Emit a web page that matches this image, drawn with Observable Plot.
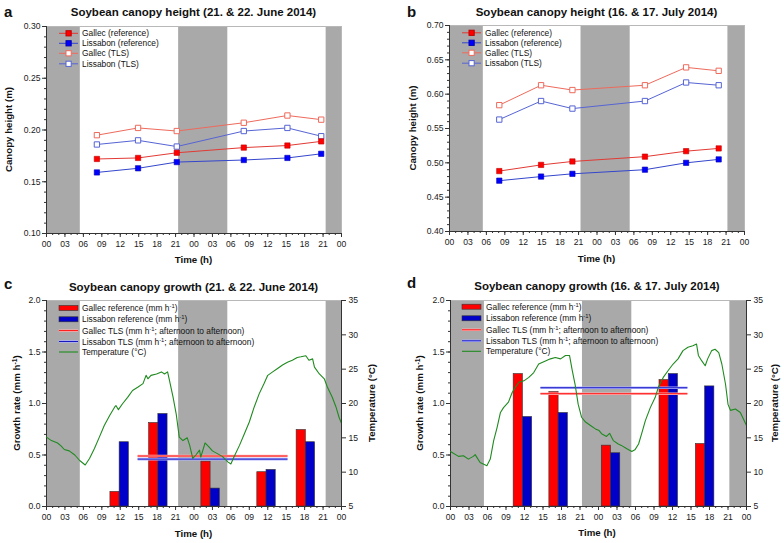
<!DOCTYPE html>
<html><head><meta charset="utf-8">
<script src="https://cdn.jsdelivr.net/npm/d3@7"></script>
<script src="https://cdn.jsdelivr.net/npm/@observablehq/plot@0.6"></script>
<style>
html,body{margin:0;padding:0;background:#fff;}
#root{position:relative;width:784px;height:543px;overflow:hidden;background:#fff;}
#root svg{position:absolute;}
</style></head><body><div id="root"></div>
<script>
// ================= DATA =================
const hourTicks  = [0,3,6,9,12,15,18,21,24,27,30,33,36,39,42,45,48];
const hourLabels = ["00","03","06","09","12","15","18","21","00","03","06","09","12","15","18","21","00"];
const nightsJune = [[0,5.5],[21.5,29.5],[45.5,48]];
const nightsJuly = [[0,5.5],[21.4,29.4],[45.3,48]];

const heightTicksA = [0.10,0.15,0.20,0.25,0.30];
const heightTicksB = [0.40,0.45,0.50,0.55,0.60,0.65,0.70];
const growthTicks  = [0.0,0.5,1.0,1.5,2.0];
const tempTicks    = [5,10,15,20,25,30,35];

const heightSeries = ["Gallec (reference)","Lissabon (reference)","Gallec (TLS)","Lissabon (TLS)"];

// panel a: 21. & 22. June 2014 (hours since 00:00 on 21 June)
const timesA      = [8.2,14.9,21.2,32.1,39.2,44.7];
const gallecRefA  = [0.172,0.173,0.178,0.183,0.185,0.189];
const lissRefA    = [0.159,0.163,0.169,0.171,0.173,0.177];
const gallecTlsA  = [0.195,0.202,0.199,0.207,0.214,0.210];
const lissTlsA    = [0.186,0.190,0.184,0.199,0.202,0.194];

// panel b: 16. & 17. July 2014
const timesB      = [8.1,14.9,20.0,31.8,38.5,43.8];
const gallecRefB  = [0.488,0.497,0.502,0.509,0.517,0.521];
const lissRefB    = [0.474,0.480,0.484,0.490,0.500,0.505];
const gallecTlsB  = [0.584,0.613,0.606,0.613,0.639,0.634];
const lissTlsB    = [0.563,0.590,0.579,0.590,0.617,0.613];

// panel c: growth rates (mm h-1), bar pair centred between measurements
const growthSeries = ["Gallec reference","Lissabon reference","Gallec TLS","Lissabon TLS","Temperature (°C)"];
const barTimesC   = [11.9,18.2,26.7,35.8,42.2];
const gallecBarC  = [0.142,0.811,0.436,0.333,0.743];
const lissBarC    = [0.624,0.898,0.174,0.355,0.624];
const tlsSpanC    = [14.9,39.3];
const gallecTlsC  = 0.49;
const lissTlsC    = 0.46;
const tempC = [[0,15.1],[0.8,14.6],[1.8,14.25],[2.4,13.8],[2.9,13.3],[3.7,13.1],[4.6,12.5],[5.4,11.7],[6.3,11.05],
  [7.0,12.0],[7.8,13.45],[8.6,15.1],[9.4,16.8],[10.3,18.3],[11.1,19.5],[11.3,19.7],[11.7,19.1],[12.4,20.0],[13.2,20.9],
  [14.0,21.9],[14.9,22.4],[15.7,22.9],[16.2,24.1],[16.5,23.6],[17.0,24.1],[17.9,24.3],[18.7,24.6],[19.2,24.3],[19.7,24.6],
  [20.0,23.4],[20.6,20.9],[21.1,18.5],[21.6,15.1],[22.2,14.6],[22.9,15.0],[23.3,13.9],[23.8,12.0],[24.3,12.5],[24.9,13.2],
  [25.1,12.2],[25.8,14.25],[26.5,13.6],[27.0,13.1],[27.8,12.7],[28.6,12.3],[29.5,11.5],[30.0,11.2],[30.5,12.2],[31.4,13.9],
  [32.2,15.6],[33.0,17.3],[33.8,19.5],[34.6,21.4],[35.4,22.9],[36.0,24.1],[36.8,24.6],[37.6,25.1],[38.4,25.6],[39.2,26.0],
  [40.0,26.3],[40.8,26.7],[41.4,26.8],[42.2,26.95],[42.7,26.3],[43.3,26.5],[43.6,25.3],[44.4,24.3],[45.2,23.6],[45.7,22.4],
  [46.5,20.9],[47.1,19.5],[47.6,18.0],[48.0,17.1]];

// panel d
const barTimesD   = [11.74,17.53,26.03,35.39,41.29];
const gallecBarD  = [1.286,1.111,0.591,1.228,0.607];
const lissBarD    = [0.869,0.908,0.517,1.286,1.166];
const tlsSpanD    = [14.66,38.5];
const gallecTlsD  = 1.095;
const lissTlsD    = 1.153;
const tempD = [[0,13.0],[1.3,12.3],[2.1,12.4],[2.9,11.9],[3.7,12.3],[4.0,12.55],[4.8,11.4],[5.9,10.95],[6.45,11.9],
  [7.0,14.6],[7.55,16.5],[8.1,18.7],[8.6,19.4],[9.4,20.2],[10.0,21.6],[10.5,22.35],[11.1,23.1],[11.9,23.3],[12.7,23.8],
  [13.5,24.5],[14.3,25.75],[15.4,26.2],[16.2,26.5],[17.0,26.7],[17.85,26.5],[18.65,27.0],[19.3,27.0],[19.75,24.8],[20.2,22.8],
  [20.7,19.9],[21.25,18.0],[21.9,17.3],[22.7,16.8],[23.5,16.3],[24.1,16.05],[24.5,15.6],[25.3,15.2],[25.8,15.65],[26.4,14.6],
  [27.2,14.1],[27.7,13.9],[28.6,13.4],[29.4,13.0],[29.9,13.25],[30.5,14.1],[31.0,15.6],[31.6,17.5],[32.4,19.4],[33.2,20.9],
  [33.7,22.35],[34.5,23.8],[35.3,24.8],[36.1,25.75],[36.9,26.5],[37.7,27.7],[38.5,28.2],[39.3,28.4],[39.9,28.65],[40.2,27.0],
  [40.75,26.2],[41.3,25.5],[41.7,26.5],[42.35,27.7],[42.9,27.9],[43.5,27.4],[44.0,25.75],[44.6,22.8],[45.0,19.9],[45.4,19.0],
  [46.2,19.2],[47.0,18.7],[47.5,17.75],[48.0,16.8]];

// ================= STYLE =================
const FONT = '"Liberation Sans", Arial, Helvetica, sans-serif';
const GRAY = "#a9a9a9";
const RED_L = "#e23a34", BLUE_L = "#3446cc", RED_T = "#ee6a5c", BLUE_T = "#5664d4";
const RED_F = "#ff0000", BLUE_F = "#0000ff", BAR_BLUE = "#0000c8", GREEN = "#1f8a1f";
const BAR_W = 1.5;
const xDomain = [hourTicks[0], hourTicks[hourTicks.length-1]];
const hourMinor = d3.range(xDomain[0], xDomain[1] + 1);
const root = document.getElementById("root");
const baseStyle = {fontSize:"8.6px", fontFamily:FONT, background:"none", overflow:"visible", color:"#1a1a1a"};

function mount(svg, left, top){ svg.style.position="absolute"; svg.style.left=left+"px"; svg.style.top=top+"px"; root.appendChild(svg); }
const fmtHour = d => hourLabels[hourTicks.indexOf(d)];

function xAxes(){
  return [
    Plot.axisX(hourMinor, {tickSize:2, tickFormat:()=>"", label:null, stroke:"#333"}),
    Plot.axisX(hourTicks, {tickSize:4, tickPadding:3, tickFormat:fmtHour, label:null, stroke:"#333"})
  ];
}

function heightPanel(p){
  const rows = p.times.map((t,i)=>({t, gr:p.gRef[i], lr:p.lRef[i], gt:p.gTls[i], lt:p.lTls[i]}));
  const y0 = p.ticks[0], y1 = p.ticks[p.ticks.length-1];
  const minor = d3.range(Math.round(y0*100), Math.round(y1*100)+1).map(v=>v/100);
  const svg = Plot.plot({
    width:392, height:271, marginLeft:p.mL, marginRight:p.mR, marginTop:p.mT, marginBottom:p.mB,
    x:{domain:xDomain}, y:{domain:[y0,y1]}, style:baseStyle,
    marks:[
      Plot.rect(p.nights,{x1:d=>d[0], x2:d=>d[1], y1:()=>y0, y2:()=>y1, fill:GRAY}),
      Plot.frame({stroke:"#b8b8b8"}),
      Plot.line(rows,{x:"t", y:"gt", stroke:RED_T, strokeWidth:1}),
      Plot.line(rows,{x:"t", y:"lt", stroke:BLUE_T, strokeWidth:1}),
      Plot.line(rows,{x:"t", y:"gr", stroke:RED_L, strokeWidth:1}),
      Plot.line(rows,{x:"t", y:"lr", stroke:BLUE_L, strokeWidth:1}),
      Plot.dot(rows,{x:"t", y:"gt", symbol:"square", r:3, fill:"white", stroke:RED_T, strokeWidth:1}),
      Plot.dot(rows,{x:"t", y:"lt", symbol:"square", r:3, fill:"white", stroke:BLUE_T, strokeWidth:1}),
      Plot.dot(rows,{x:"t", y:"gr", symbol:"square", r:3, fill:RED_F, stroke:"#c00000", strokeWidth:0.6}),
      Plot.dot(rows,{x:"t", y:"lr", symbol:"square", r:3, fill:BLUE_F, stroke:"#0000b0", strokeWidth:0.6}),
      Plot.ruleX([xDomain[0]],{stroke:"#333"}),
      Plot.ruleY([y0],{stroke:"#333"}),
      ...xAxes(),
      Plot.axisY(minor,{tickSize:2, tickFormat:()=>"", label:null, stroke:"#333"}),
      Plot.axisY(p.ticks,{tickSize:4, tickPadding:2, tickFormat:d=>d.toFixed(2), label:null, stroke:"#333"})
    ]
  });
  mount(svg, p.left, p.top);
}

function growthPanel(p){
  const bars = p.centers.map((c,i)=>({c, g:p.gBar[i], l:p.lBar[i]}));
  const temp = p.temp.map(([h,T])=>({h,T}));
  const y0 = growthTicks[0], y1 = growthTicks[growthTicks.length-1];
  const minor = d3.range(0, Math.round(y1*10)+1).map(v=>v/10);
  const dims = {width:392, height:272, marginLeft:p.mL, marginRight:p.mR, marginTop:p.mT, marginBottom:p.mB};
  const base = Plot.plot({
    ...dims, x:{domain:xDomain}, y:{domain:[y0,y1]}, style:baseStyle,
    marks:[
      Plot.rect(p.nights,{x1:d=>d[0], x2:d=>d[1], y1:()=>y0, y2:()=>y1, fill:GRAY}),
      Plot.frame({stroke:"#b8b8b8"}),
      Plot.rect(bars,{x1:d=>d.c-BAR_W, x2:"c", y1:()=>0, y2:"g", fill:RED_F, stroke:"#333", strokeWidth:0.6}),
      Plot.rect(bars,{x1:"c", x2:d=>d.c+BAR_W, y1:()=>0, y2:"l", fill:BAR_BLUE, stroke:"#333", strokeWidth:0.6}),
      Plot.ruleY([p.gTls],{x1:()=>p.span[0], x2:()=>p.span[1], stroke:"#ffb4b4", strokeWidth:2.6}),
      Plot.ruleY([p.gTls],{x1:()=>p.span[0], x2:()=>p.span[1], stroke:"#ff1010", strokeWidth:1}),
      Plot.ruleY([p.lTls],{x1:()=>p.span[0], x2:()=>p.span[1], stroke:"#b0b4ff", strokeWidth:2.6}),
      Plot.ruleY([p.lTls],{x1:()=>p.span[0], x2:()=>p.span[1], stroke:"#1818c0", strokeWidth:1}),
      Plot.ruleX([xDomain[0]],{stroke:"#333"}),
      Plot.ruleY([y0],{stroke:"#333"}),
      ...xAxes(),
      Plot.axisY(minor,{tickSize:2, tickFormat:()=>"", label:null, stroke:"#333"}),
      Plot.axisY(growthTicks,{tickSize:4, tickPadding:2, tickFormat:d=>d.toFixed(1), label:null, stroke:"#333"})
    ]
  });
  mount(base, p.left, p.top);
  const over = Plot.plot({
    ...dims, x:{domain:xDomain, axis:null}, y:{domain:[tempTicks[0], tempTicks[tempTicks.length-1]]}, style:baseStyle,
    marks:[
      Plot.line(temp,{x:"h", y:"T", stroke:GREEN, strokeWidth:1.1}),
      Plot.ruleX([xDomain[1]],{stroke:"#333"}),
      Plot.axisY(tempTicks,{anchor:"right", tickSize:4, tickPadding:3, tickFormat:d=>String(d), label:null, stroke:"#333"})
    ]
  });
  mount(over, p.left, p.top);
}

heightPanel({left:0, top:0, mL:46, mR:51, mT:26, mB:38, ticks:heightTicksA, nights:nightsJune,
  times:timesA, gRef:gallecRefA, lRef:lissRefA, gTls:gallecTlsA, lTls:lissTlsA});
heightPanel({left:392, top:0, mL:57, mR:40, mT:25, mB:40, ticks:heightTicksB, nights:nightsJuly,
  times:timesB, gRef:gallecRefB, lRef:lissRefB, gTls:gallecTlsB, lTls:lissTlsB});
growthPanel({left:0, top:271, mL:46, mR:51, mT:29, mB:37, nights:nightsJune, centers:barTimesC,
  gBar:gallecBarC, lBar:lissBarC, span:tlsSpanC, gTls:gallecTlsC, lTls:lissTlsC, temp:tempC});
growthPanel({left:392, top:271, mL:58, mR:38, mT:29, mB:37, nights:nightsJuly, centers:barTimesD,
  gBar:gallecBarD, lBar:lissBarD, span:tlsSpanD, gTls:gallecTlsD, lTls:lissTlsD, temp:tempD});

// ================= TEXT (titles, axis labels, legends) =================
const SUP = '<tspan baseline-shift="super" font-size="70%">-1</tspan>';
let s = `<svg xmlns="http://www.w3.org/2000/svg" width="784" height="543" style="position:absolute;left:0;top:0;pointer-events:none" font-family='${FONT}' fill="#111">`;
function T(x,y,str,o={}){
  const rot = o.rot ? ` transform="rotate(-90 ${x} ${y})"` : "";
  s += `<text x="${x}" y="${y}" font-size="${o.size||8.4}" font-weight="${o.bold?'bold':'normal'}" text-anchor="${o.anchor||'start'}"${rot}>${str}</text>`;
}
// panel letters
T(4,16.7,"a",{size:15,bold:true}); T(407,16.7,"b",{size:15,bold:true});
T(4,289.3,"c",{size:15,bold:true}); T(407,287.7,"d",{size:15,bold:true});
// titles
T(193.5,15.7,"Soybean canopy height (21. &amp; 22. June 2014)",{size:11.5,bold:true,anchor:"middle"});
T(596.5,15.7,"Soybean canopy height (16. &amp; 17. July 2014)",{size:11.5,bold:true,anchor:"middle"});
T(193.5,290.5,"Soybean canopy growth (21. &amp; 22. June 2014)",{size:11.5,bold:true,anchor:"middle"});
T(597,290,"Soybean canopy growth (16. &amp; 17. July 2014)",{size:11.5,bold:true,anchor:"middle"});
// axis labels
T(193.5,263.3,"Time (h)",{size:9.7,bold:true,anchor:"middle"});
T(596.5,261.7,"Time (h)",{size:9.7,bold:true,anchor:"middle"});
T(193.5,537,"Time (h)",{size:9.7,bold:true,anchor:"middle"});
T(597,536.3,"Time (h)",{size:9.7,bold:true,anchor:"middle"});
T(11.5,129.5,"Canopy height (m)",{size:9.7,bold:true,anchor:"middle",rot:true});
T(415.5,128,"Canopy height (m)",{size:9.7,bold:true,anchor:"middle",rot:true});
T(19.5,403,"Growth rate (mm h"+SUP+")",{size:9.7,bold:true,anchor:"middle",rot:true});
T(423,403,"Growth rate (mm h"+SUP+")",{size:9.7,bold:true,anchor:"middle",rot:true});
T(374.5,403,"Temperature (°C)",{size:9.7,bold:true,anchor:"middle",rot:true});
T(778,403,"Temperature (°C)",{size:9.7,bold:true,anchor:"middle",rot:true});

// legends for height panels
function heightLegend(x0, ys){
  const sw = [
    {line:RED_L, fill:RED_F, stroke:"#c00000"},
    {line:BLUE_L, fill:BLUE_F, stroke:"#0000b0"},
    {line:RED_T, fill:"white", stroke:RED_T},
    {line:BLUE_T, fill:"white", stroke:BLUE_T}];
  heightSeries.forEach((name,i)=>{
    const y = ys[i];
    s += `<line x1="${x0}" x2="${x0+19}" y1="${y}" y2="${y}" stroke="${sw[i].line}" stroke-width="1"/>`;
    s += `<rect x="${x0+7}" y="${y-2.6}" width="5.2" height="5.2" fill="${sw[i].fill}" stroke="${sw[i].stroke}" stroke-width="1"/>`;
    T(x0+23, y+3, name);
  });
}
heightLegend(59,[33.3,43.3,53.3,63.8]);
heightLegend(462,[32.8,42.8,52.8,63.2]);

function growthLegend(x0, tx, ys){
  const labels = [
    growthSeries[0]+" (mm h"+SUP+")",
    growthSeries[1]+" (mm h"+SUP+")",
    growthSeries[2]+" (mm h"+SUP+"; afternoon to afternoon)",
    growthSeries[3]+" (mm h"+SUP+"; afternoon to afternoon)",
    growthSeries[4]];
  s += `<rect x="${x0}" y="${ys[0]-2.5}" width="19" height="5" fill="${RED_F}" stroke="#333" stroke-width="0.6"/>`;
  s += `<rect x="${x0}" y="${ys[1]-2.5}" width="19" height="5" fill="${BAR_BLUE}" stroke="#333" stroke-width="0.6"/>`;
  s += `<line x1="${x0}" x2="${x0+19}" y1="${ys[2]}" y2="${ys[2]}" stroke="#ffb4b4" stroke-width="2.4"/>`;
  s += `<line x1="${x0}" x2="${x0+19}" y1="${ys[2]}" y2="${ys[2]}" stroke="#ff1010" stroke-width="1"/>`;
  s += `<line x1="${x0}" x2="${x0+19}" y1="${ys[3]}" y2="${ys[3]}" stroke="#b0b4ff" stroke-width="2.4"/>`;
  s += `<line x1="${x0}" x2="${x0+19}" y1="${ys[3]}" y2="${ys[3]}" stroke="#1818c0" stroke-width="1"/>`;
  s += `<line x1="${x0}" x2="${x0+19}" y1="${ys[4]}" y2="${ys[4]}" stroke="${GREEN}" stroke-width="1.1"/>`;
  labels.forEach((l,i)=>T(tx, ys[i]+3, l));
}
growthLegend(59, 82, [308,319.3,330.6,341.5,352]);
growthLegend(462, 486, [306.7,318.3,329.8,340.8,351.3]);

s += `</svg>`;
root.insertAdjacentHTML("beforeend", s);
</script></body></html>
